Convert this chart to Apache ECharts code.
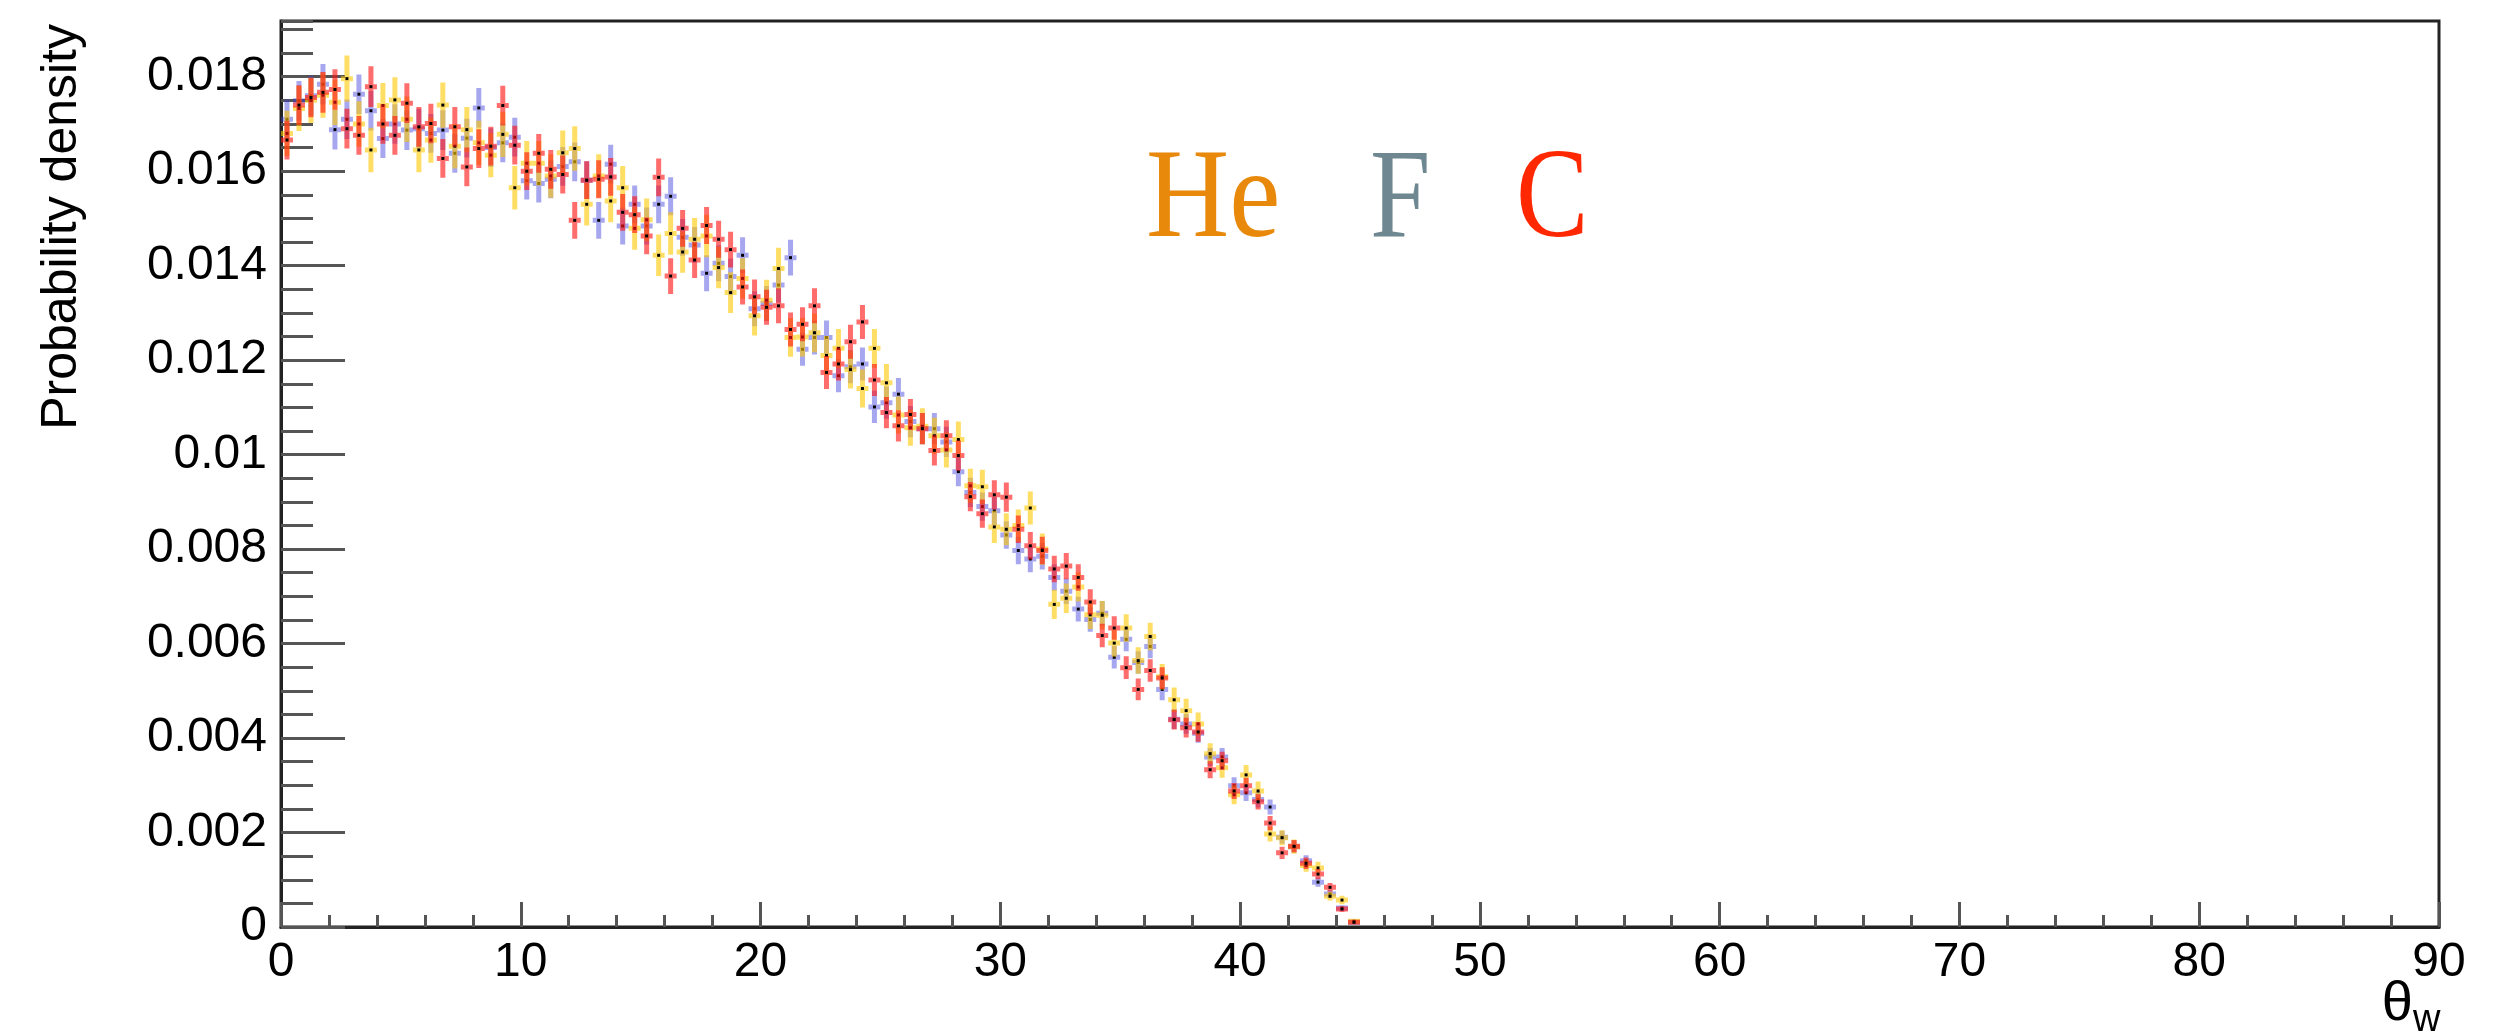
<!DOCTYPE html>
<html><head><meta charset="utf-8">
<script src="https://cdn.jsdelivr.net/npm/echarts@6/dist/echarts.min.js"></script>
<style>html,body{margin:0;padding:0;background:#fff}#c{width:2504px;height:1032px}</style>
</head><body><div id="c"></div><script>
// ---- data ----
const binWidth = 0.5;
const binCenters = Array.from({length: 90}, (_, i) => 0.25 + binWidth * i);
const xTicks = [0, 10, 20, 30, 40, 50, 60, 70, 80, 90];
const yTickLabels = ['0', '0.002', '0.004', '0.006', '0.008', '0.01', '0.012', '0.014', '0.016', '0.018'];
const seriesNames = ['He', 'F', 'C'];

const heValues = [0.0168,0.01733,0.0175,0.01761,0.01746,0.01796,0.0170,0.01645,0.01739,0.01751,
  0.0171,0.01645,0.01666,0.0174,0.01653,0.01688,0.0166,0.01634,0.01678,0.01565,
  0.01617,0.01617,0.0159,0.01639,0.01648,0.0153,0.0159,0.01537,0.01565,0.01479,
  0.01497,0.01422,0.01468,0.01429,0.01456,0.01463,0.01396,0.01343,0.01373,0.01294,
  0.01327,0.01394,0.01248,0.01249,0.01258,0.0121,0.01225,0.0118,0.0114,0.01225,
  0.01152,0.01084,0.01057,0.0106,0.0104,0.0101,0.01032,0.00934,0.00932,0.00847,
  0.00842,0.0085,0.00887,0.0080,0.00683,0.00696,0.0072,0.00661,0.0066,0.00601,
  0.00633,0.00564,0.00615,0.0053,0.00481,0.00458,0.0043,0.00367,0.00337,0.0028,
  0.00322,0.00288,0.00197,0.00189,0.0017,0.0013,0.00125,0.00065,0.00057,0.00012];
const fValues = [0.0171,0.01749,0.0176,0.01784,0.01688,0.0171,0.01763,0.01728,0.01669,0.0170,
  0.01687,0.0169,0.0168,0.01687,0.01638,0.0167,0.01734,0.0165,0.0166,0.01672,
  0.0158,0.01574,0.01583,0.0161,0.0162,0.01581,0.01496,0.01615,0.01484,0.0153,
  0.01484,0.0153,0.01547,0.0146,0.01444,0.01384,0.01405,0.01377,0.01422,0.01309,
  0.0132,0.01359,0.01417,0.01223,0.01248,0.01248,0.01167,0.01186,0.01192,0.01101,
  0.0111,0.01128,0.0107,0.01055,0.01055,0.01027,0.00964,0.0092,0.0089,0.00881,
  0.0083,0.00797,0.00779,0.00785,0.0074,0.00711,0.00673,0.00651,0.00664,0.00571,
  0.00609,0.0056,0.00594,0.00503,0.0044,0.0043,0.0041,0.0036,0.0036,0.00299,
  0.00284,0.0027,0.00254,0.0019,0.0017,0.0014,0.00095,0.0007,0.0004,0.0001];
const cValues = [0.01666,0.0174,0.01756,0.01767,0.01773,0.0169,0.01676,0.01779,0.0170,0.01676,
  0.01744,0.01694,0.01701,0.01627,0.01694,0.01609,0.01648,0.01653,0.01739,0.01655,
  0.0160,0.01638,0.01604,0.01593,0.01496,0.01581,0.01583,0.01588,0.01513,0.01508,
  0.01463,0.01587,0.01378,0.01479,0.01412,0.01485,0.01456,0.01434,0.01355,0.01334,
  0.01312,0.01315,0.01265,0.01276,0.01315,0.01174,0.01192,0.01239,0.01281,0.01158,
  0.01089,0.01061,0.01085,0.01055,0.01009,0.0104,0.00998,0.00911,0.00875,0.00915,
  0.0091,0.00842,0.00807,0.00797,0.00758,0.00764,0.0074,0.00688,0.00617,0.00633,
  0.00549,0.00503,0.00543,0.00527,0.00439,0.00422,0.00413,0.00333,0.00352,0.00288,
  0.00299,0.00265,0.0022,0.00157,0.00171,0.00135,0.00112,0.00084,0.00038,0.0001];

// half-length of the vertical error bars, in units of 1e-5
const ERR_UNIT = 1e-5;
const heErrors = [48,48,48,48,48,49,48,47,48,48, 48,47,48,48,47,48,47,47,48,46,
  47,47,46,47,47,45,46,45,46,45, 45,44,45,44,45,45,44,43,43,42,
  43,44,41,41,41,41,41,40,40,41, 40,39,38,38,38,37,38,36,36,34,
  34,34,35,33,31,31,31,30,30,29, 29,28,29,27,26,25,24,22,21,20,
  21,20,16,16,15,13,13,9,9,4];
const fErrors = [42,42,42,43,42,42,42,42,41,42, 42,42,41,42,41,41,42,41,41,41,
  40,40,40,41,41,40,39,41,39,40, 39,40,40,39,38,38,38,38,38,37,
  37,37,38,35,36,36,35,35,35,34, 34,34,33,33,33,32,31,31,30,30,
  29,29,28,28,28,27,26,26,26,24, 25,24,25,23,21,21,20,19,19,18,
  17,17,16,14,13,12,10,8,6,3];
const cErrors = [41,42,42,43,43,42,41,43,42,41, 42,42,42,41,42,41,41,41,42,41,
  40,41,41,40,39,40,40,40,39,39, 39,40,38,39,38,39,39,38,37,37,
  37,37,36,36,37,35,35,36,36,34, 33,33,33,33,32,33,32,31,30,31,
  31,29,29,29,28,28,28,27,25,25, 24,23,24,23,21,21,21,18,19,17,
  17,16,15,13,13,12,11,9,6,3];

const Y_MAX = 0.01918;

// ---- chart ----
const chart = echarts.init(document.getElementById('c'), null, {renderer: 'canvas'});
const FONT = 'Liberation Sans, Arial, Helvetica, sans-serif';
const SERIF = '128px "Liberation Serif", "DejaVu Serif", serif';

function errSeries(name, values, errors, color, z) {
  return {
    type: 'custom', name: name, z: z, xAxisIndex: 0, yAxisIndex: 0,
    data: values.map((v, i) => [binCenters[i], v, errors[i] * ERR_UNIT]),
    renderItem: function (params, api) {
      const x = api.value(0), y = api.value(1), e = api.value(2);
      const p = api.coord([x, y]);
      const t = api.coord([x, y + e]);
      const b = api.coord([x, Math.max(0, y - e)]);
      const l = api.coord([x - binWidth / 2, y]);
      const r = api.coord([x + binWidth / 2, y]);
      return {
        type: 'group',
        children: [
          {type: 'path', shape: {pathData: 'M' + p[0] + ' ' + t[1] + 'L' + p[0] + ' ' + b[1] +
              'M' + l[0] + ' ' + p[1] + 'L' + r[0] + ' ' + p[1]},
           style: {stroke: color, lineWidth: 5, fill: null}},
          {type: 'rect', shape: {x: p[0] - 1.5, y: p[1] - 1.5, width: 3, height: 3},
           style: {fill: '#000'}}
        ]
      };
    }
  };
}

function yLabel(v) {
  const k = v / 0.002;
  if (Math.abs(k - Math.round(k)) > 1e-6) return '';
  const idx = Math.round(k);
  return yTickLabels[idx] !== undefined ? yTickLabels[idx] : '';
}

const option = {
  animation: false,
  backgroundColor: '#fff',
  grid: {left: 281, right: 65, top: 21, bottom: 105, show: true, borderColor: '#222', borderWidth: 3,
         backgroundColor: 'transparent'},
  xAxis: {
    type: 'value', min: xTicks[0], max: xTicks[xTicks.length - 1], interval: 10,
    axisLine: {show: true, onZero: false, lineStyle: {color: '#222', width: 3}},
    axisTick: {show: true, inside: true, length: 25, lineStyle: {color: '#555', width: 3}},
    minorTick: {show: true, splitNumber: 5, length: 12, lineStyle: {color: '#555', width: 3}},
    splitLine: {show: false}, minorSplitLine: {show: false},
    axisLabel: {fontFamily: FONT, fontSize: 48, color: '#000', margin: 12, showMinLabel: true, showMaxLabel: true}
  },
  yAxis: [{
    type: 'value', min: 0, max: Y_MAX, interval: 0.002,
    axisLine: {show: true, onZero: false, lineStyle: {color: '#222', width: 3}},
    axisTick: {show: true, inside: true, length: 64, lineStyle: {color: '#555', width: 3}},
    splitLine: {show: false},
    axisLabel: {fontFamily: FONT, fontSize: 48, color: '#000', margin: 14, formatter: yLabel,
                showMaxLabel: false, showMinLabel: true}
  }, {
    type: 'value', min: 0, max: Y_MAX, interval: 0.0005, position: 'left',
    axisLine: {show: false},
    axisTick: {show: true, inside: true, length: 32, lineStyle: {color: '#555', width: 3}},
    splitLine: {show: false},
    axisLabel: {show: false}
  }],
  series: [
    errSeries(seriesNames[1], fValues, fErrors, 'rgba(60,60,220,0.45)', 2),
    errSeries(seriesNames[0], heValues, heErrors, 'rgba(255,200,0,0.6)', 3),
    errSeries(seriesNames[2], cValues, cErrors, 'rgba(255,20,20,0.62)', 4)
  ],
  graphic: [
    {type: 'text', x: 62, y: 24, rotation: Math.PI / 2,
     style: {text: 'Probability density', font: '50px ' + FONT, fill: '#000', align: 'right', verticalAlign: 'middle'}},
    {type: 'text', x: 2413, y: 1005,
     style: {text: 'θ', font: '56px ' + FONT, fill: '#000', align: 'right', verticalAlign: 'middle'}},
    {type: 'text', x: 2413, y: 1021,
     style: {text: 'w', font: '38px ' + FONT, fill: '#000', align: 'left', verticalAlign: 'middle'}},
    {type: 'text', x: 1146, y: 202, scaleX: 0.9,
     style: {text: seriesNames[0], font: SERIF, fill: '#E8890C', align: 'left', verticalAlign: 'middle'}},
    {type: 'text', x: 1370, y: 202, scaleX: 0.85,
     style: {text: seriesNames[1], font: SERIF, fill: '#6F8790', align: 'left', verticalAlign: 'middle'}},
    {type: 'text', x: 1516, y: 202, scaleX: 0.85,
     style: {text: seriesNames[2], font: SERIF, fill: '#FF2800', align: 'left', verticalAlign: 'middle'}}
  ]
};
chart.setOption(option);
</script></body></html>
